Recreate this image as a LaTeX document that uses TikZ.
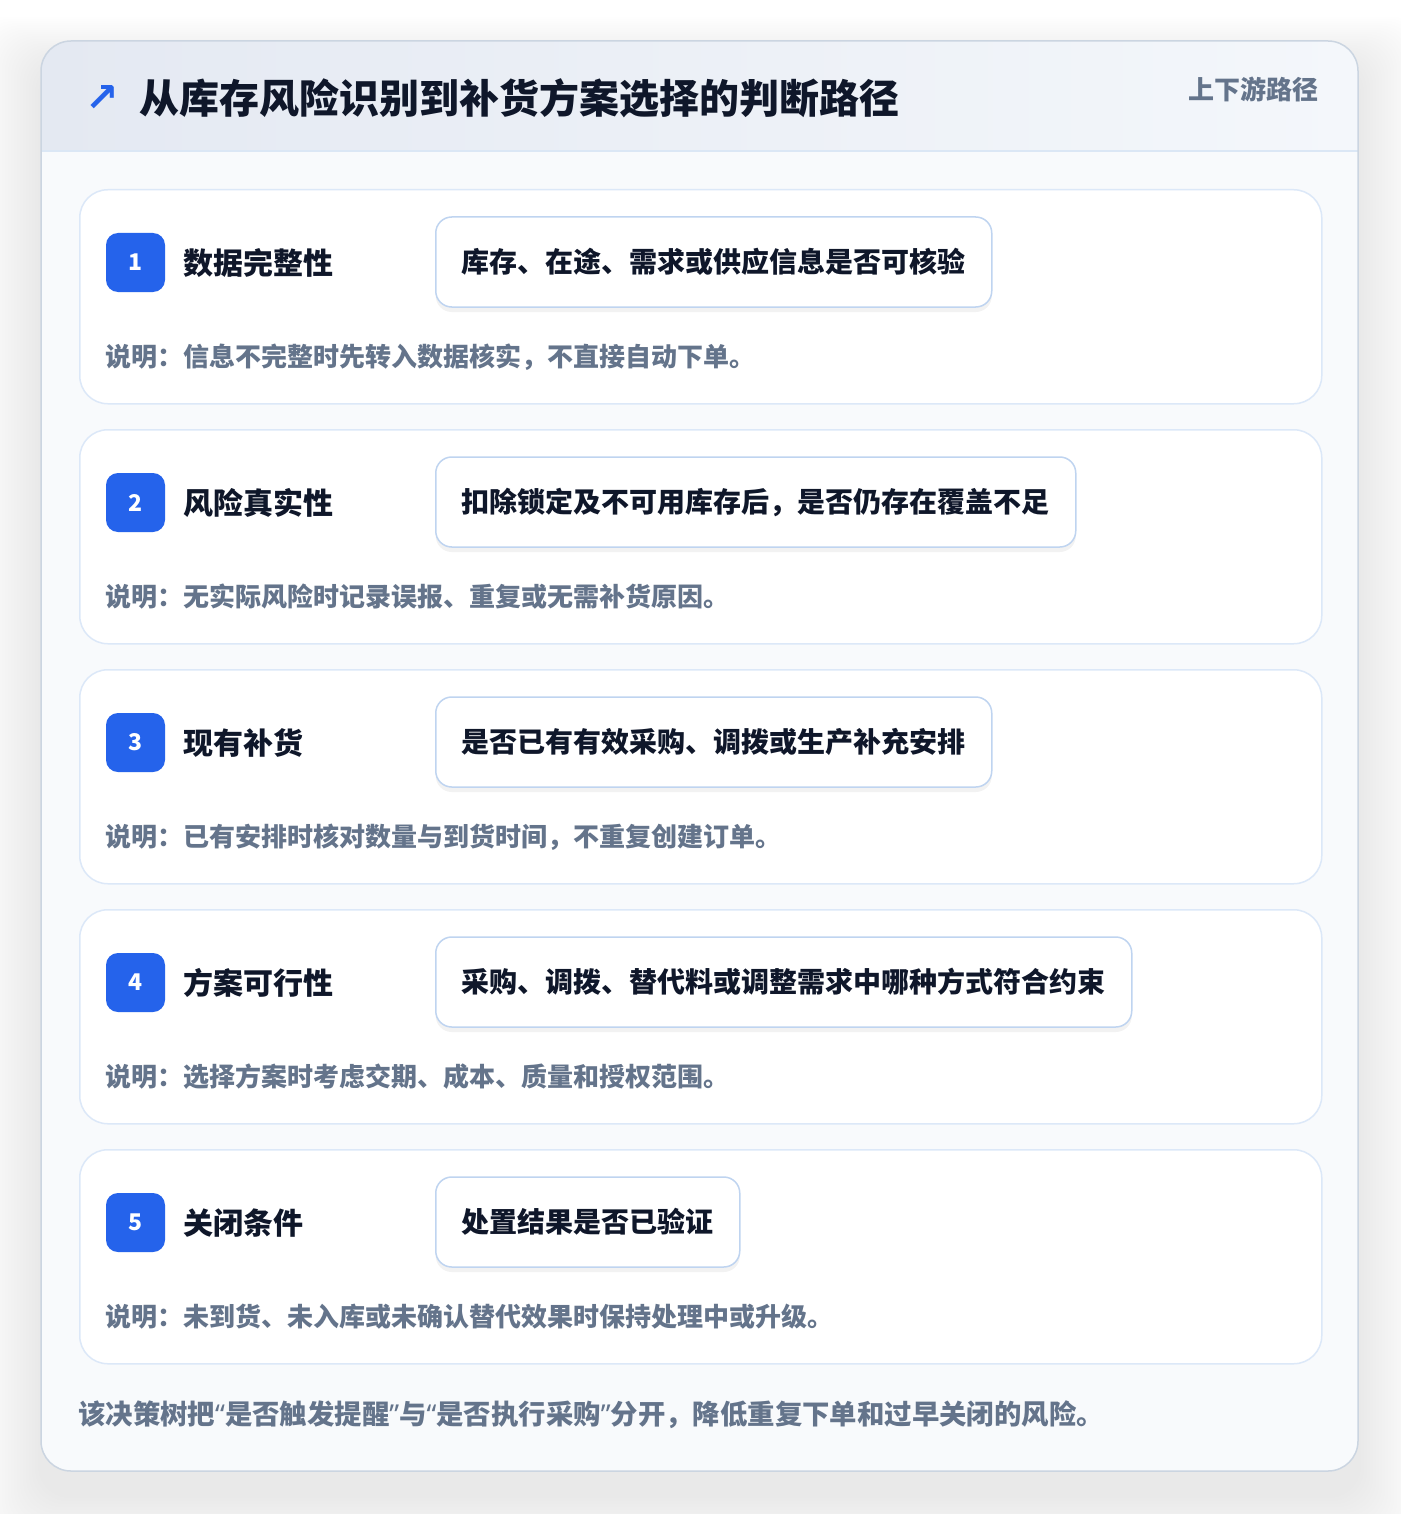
\documentclass[tikz,border=0pt]{standalone}
\usepackage{fontspec}
\setmainfont{Noto Sans CJK SC}
\newfontfamily\symfont{DejaVu Sans}
\newfontfamily\latinq{Noto Sans}
\usetikzlibrary{shadows}
\definecolor{ink}{HTML}{0F172A}
\definecolor{muted}{HTML}{64748B}
\definecolor{accent}{HTML}{2563EB}
\definecolor{cardline}{HTML}{DCE8F8}
\definecolor{qline}{HTML}{BFD4F0}
\definecolor{mainline}{HTML}{CBD5E1}
\definecolor{bodybg}{HTML}{F8FAFC}
\definecolor{headL}{HTML}{E4E9F2}
\definecolor{headR}{HTML}{F4F7FB}
\definecolor{headline}{HTML}{DBE7F5}
\tikzset{
  cardbox/.style={draw=cardline, line width=1.5pt, fill=white, rounded corners=28pt,
    minimum width=1242pt, minimum height=214pt, anchor=north west, inner sep=0pt},
  badgebox/.style={fill=accent, rounded corners=12pt, minimum width=59pt, minimum height=59pt,
    inner sep=0pt, text=white, font=\bfseries\fontsize{23}{26}\selectfont},
  labeltext/.style={anchor=west, inner sep=0pt, text=ink, font=\bfseries\fontsize{30}{36}\selectfont},
  qbox/.style={draw=qline, line width=1.5pt, fill=white, rounded corners=16pt, anchor=west,
    minimum height=90pt, inner xsep=26pt, inner ysep=0pt, text=ink,
    font=\bfseries\fontsize{28}{34}\selectfont,
    drop shadow={shadow xshift=0pt, shadow yshift=-5pt, opacity=0.05, fill=black}},
  notetext/.style={anchor=west, inner sep=0pt, text=muted, font=\bfseries\fontsize{26}{30}\selectfont},
}
\begin{document}
\begin{tikzpicture}[x=1pt,y=-1pt]
\useasboundingbox (0,0) rectangle (1400,1514);
\fill[white] (0,0) rectangle (1400,1514);
% soft shadow of main card
\foreach \k in {1,...,22}{
  \fill[black, opacity=0.0028, rounded corners=32pt] (41-\k*3, 65-\k*2.2) rectangle (1358+\k*3, 1495+\k*3);
}
% main card
\node[fill=bodybg, rounded corners=30pt, minimum width=1317pt, minimum height=1430pt,
  anchor=north west, inner sep=0pt] (main) at (41,41) {};
\begin{scope}
  \clip[rounded corners=30pt] (41,41) rectangle (1358,1471) (41,41) rectangle (1358,100);
  \shade[left color=headL, right color=headR] (41,41) rectangle (1358,151);
\end{scope}
\coordinate (hl) at (41,151);
\coordinate (hr) at (1358,151);
\draw[headline, line width=1.5pt] (hl) -- (hr);
\draw[mainline, line width=1.5pt, rounded corners=30pt] (41,41) rectangle (1358,1471);
% header texts
\node[anchor=center, inner sep=0pt, text=accent, font=\symfont\bfseries\fontsize{40}{44}\selectfont] (icon) at (102,99) {↗};
\node[anchor=west, inner sep=0pt, text=ink, font=\bfseries\fontsize{40}{48}\selectfont] (title) at (139,98) {从库存风险识别到补货方案选择的判断路径};
\node[anchor=east, inner sep=0pt, text=muted, font=\bfseries\fontsize{26}{30}\selectfont] (tag) at (1319,89) {上下游路径};
% cards
\foreach \i/\lab/\q/\note in {
  1/数据完整性/库存、在途、需求或供应信息是否可核验/说明：信息不完整时先转入数据核实，不直接自动下单。,
  2/风险真实性/扣除锁定及不可用库存后，是否仍存在覆盖不足/说明：无实际风险时记录误报、重复或无需补货原因。,
  3/现有补货/是否已有有效采购、调拨或生产补充安排/说明：已有安排时核对数量与到货时间，不重复创建订单。,
  4/方案可行性/采购、调拨、替代料或调整需求中哪种方式符合约束/说明：选择方案时考虑交期、成本、质量和授权范围。,
  5/关闭条件/处置结果是否已验证/说明：未到货、未入库或未确认替代效果时保持处理中或升级。}{
  \pgfmathsetmacro{\top}{189+240*(\i-1)}
  \node[cardbox] (card\i) at (79,\top) {};
  \node[badgebox] (badge\i) at (135.5,\top+73.5) {\i};
  \node[labeltext] (label\i) at (183,\top+74) {\lab};
  \node[qbox] (q\i) at (435,\top+73) {\q};
  \node[notetext] (note\i) at (105,\top+168) {\note};
}
% footer
\node[anchor=west, inner sep=0pt, text=muted, font=\bfseries\fontsize{27.4}{32}\selectfont] (footer) at (78,1415) {该决策树把{\latinq “}是否触发提醒{\latinq ”}与{\latinq “}是否执行采购{\latinq ”}分开，降低重复下单和过早关闭的风险。};
\end{tikzpicture}
\end{document}
